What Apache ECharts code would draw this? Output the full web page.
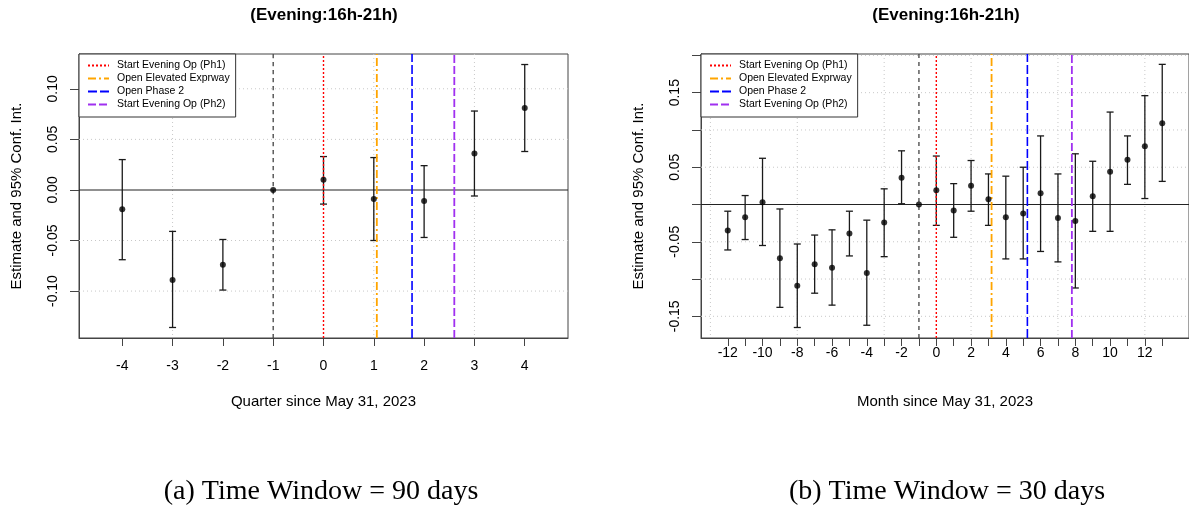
<!DOCTYPE html>
<html>
<head>
<meta charset="utf-8">
<script src="https://cdn.jsdelivr.net/npm/echarts@6/dist/echarts.min.js"></script>
<style>
html,body{margin:0;padding:0;background:#fff;}
#chart{width:1189px;height:515px;}
</style>
</head>
<body>
<div id="chart"></div>
<script>
// ---------- data ----------
const panelTitle = '(Evening:16h-21h)';
const captions = ['(a) Time Window = 90 days', '(b) Time Window = 30 days'];
const xTitles = ['Quarter since May 31, 2023', 'Month since May 31, 2023'];
const yTitle = 'Estimate and 95% Conf. Int.';

// Quarterly (90-day) panel
const qX   = [-4, -3, -2, -1, 0, 1, 2, 3, 4];
const qEst = [-0.019, -0.089, -0.074, 0, 0.010, -0.009, -0.011, 0.036, 0.081];
const qLo  = [-0.069, -0.136, -0.099, 0, -0.014, -0.050, -0.047, -0.006, 0.038];
const qHi  = [0.030, -0.041, -0.049, 0, 0.033, 0.032, 0.024, 0.078, 0.124];
const qEvents = [0, 1.06, 1.76, 2.60];
const qXTicks = [-4, -3, -2, -1, 0, 1, 2, 3, 4];
const qXLabels = [-4, -3, -2, -1, 0, 1, 2, 3, 4];
const qYTicks = [-0.10, -0.05, 0, 0.05, 0.10];
const qYLabels = [-0.10, -0.05, 0, 0.05, 0.10];
const qGridX = [-3, -1, 1, 3];
const qGridY = [-0.10, -0.05, 0.05, 0.10];

// Monthly (30-day) panel
const mX   = [-12, -11, -10, -9, -8, -7, -6, -5, -4, -3, -2, -1, 0, 1, 2, 3, 4, 5, 6, 7, 8, 9, 10, 11, 12, 13];
const mEst = [-0.035, -0.017, 0.003, -0.072, -0.109, -0.080, -0.085, -0.039, -0.092, -0.024, 0.036, 0, 0.019, -0.008, 0.025, 0.007, -0.017, -0.012, 0.015, -0.018, -0.022, 0.011, 0.044, 0.060, 0.078, 0.109];
const mLo  = [-0.061, -0.047, -0.055, -0.138, -0.165, -0.119, -0.135, -0.069, -0.162, -0.070, 0.001, 0, -0.028, -0.044, -0.009, -0.028, -0.073, -0.073, -0.063, -0.077, -0.112, -0.036, -0.036, 0.027, 0.008, 0.031];
const mHi  = [-0.009, 0.012, 0.062, -0.006, -0.053, -0.041, -0.034, -0.009, -0.021, 0.021, 0.072, 0, 0.065, 0.028, 0.059, 0.041, 0.038, 0.050, 0.092, 0.041, 0.068, 0.058, 0.124, 0.092, 0.146, 0.188];
const mEvents = [0, 3.18, 5.24, 7.8];
const mXTicks = [-12, -11, -10, -9, -8, -7, -6, -5, -4, -3, -2, -1, 0, 1, 2, 3, 4, 5, 6, 7, 8, 9, 10, 11, 12, 13];
const mXLabels = [-12, -10, -8, -6, -4, -2, 0, 2, 4, 6, 8, 10, 12];
const mYTicks = [-0.15, -0.10, -0.05, 0, 0.05, 0.10, 0.15, 0.20];
const mYLabels = [-0.15, -0.05, 0.05, 0.15];
const mGridX = [-13, -8, -3, 2, 7, 12];
const mGridY = [-0.15, -0.10, -0.05, 0.05, 0.10, 0.15, 0.20];

const refPeriod = -1;
const eventNames = ['Start Evening Op (Ph1)', 'Open Elevated Exprway', 'Open Phase 2', 'Start Evening Op (Ph2)'];
const eventColors = ['#FF0000', '#FFA500', '#0000FF', '#A030F0'];
const eventDash = [[2, 2], [8, 3, 2, 3], [9, 3], [8, 3]];
const eventWidth = [1.4, 1.8, 1.6, 1.8];

// axis limits (R-style 4% expansion)
const qXRange = [-4.86, 4.86], qYRange = [-0.1464, 0.1344];
const mXRange = [-13.54, 14.54], mYRange = [-0.1791, 0.2019];

// ---------- chart ----------
const FONT = 'Liberation Sans, Arial, Helvetica, sans-serif';
const chart = echarts.init(document.getElementById('chart'), null, {renderer: 'canvas'});

function errRender(params, api) {
  const x = api.value(0), lo = api.value(1), hi = api.value(2);
  if (lo === hi) return null;
  const a = api.coord([x, lo]), b = api.coord([x, hi]);
  const cap = 3.5;
  const st = {stroke: '#1a1a1a', lineWidth: 1.3, fill: null};
  return {type: 'group', children: [
    {type: 'line', shape: {x1: a[0], y1: a[1], x2: b[0], y2: b[1]}, style: st},
    {type: 'line', shape: {x1: a[0] - cap, y1: a[1], x2: a[0] + cap, y2: a[1]}, style: st},
    {type: 'line', shape: {x1: b[0] - cap, y1: b[1], x2: b[0] + cap, y2: b[1]}, style: st}
  ]};
}
function vGridRender(params, api) {
  const cs = params.coordSys;
  const x = api.coord([api.value(0), 0])[0];
  return {type: 'line', shape: {x1: x, y1: cs.y, x2: x, y2: cs.y + cs.height},
    style: {stroke: '#c8c8c8', lineWidth: 1, lineDash: [1, 3]}};
}
function hGridRender(params, api) {
  const cs = params.coordSys;
  const y = api.coord([0, api.value(1)])[1];
  return {type: 'line', shape: {x1: cs.x, y1: y, x2: cs.x + cs.width, y2: y},
    style: {stroke: '#c8c8c8', lineWidth: 1, lineDash: [1, 3]}};
}
function zeroRender(params, api) {
  const cs = params.coordSys;
  const y = api.coord([0, api.value(1)])[1];
  return {type: 'line', shape: {x1: cs.x, y1: y, x2: cs.x + cs.width, y2: y},
    style: {stroke: '#222', lineWidth: 1.1}};
}

function panelSeries(idx, X, est, lo, hi, events, gx, gy, xr, yr) {
  const s = [];
  const ax = {xAxisIndex: idx, yAxisIndex: idx};
  s.push(Object.assign({type: 'custom', silent: true, z: 1, renderItem: vGridRender,
    data: gx.map(v => [v, 0]), encode: {x: 0, y: 1}}, ax));
  s.push(Object.assign({type: 'custom', silent: true, z: 1, renderItem: hGridRender,
    data: gy.map(v => [0, v]), encode: {x: 0, y: 1}}, ax));
  s.push(Object.assign({type: 'custom', silent: true, z: 2, renderItem: zeroRender,
    data: [[0, 0]], encode: {x: 0, y: 1}}, ax));
  s.push(Object.assign({type: 'custom', silent: true, z: 3, renderItem: errRender,
    data: X.map((x, i) => [x, lo[i], hi[i]]), encode: {x: 0, y: [1, 2]}}, ax));
  s.push(Object.assign({type: 'line', name: 'ref', silent: true, z: 4, symbol: 'none',
    data: [[refPeriod, yr[0]], [refPeriod, yr[1]]],
    lineStyle: {color: '#444', width: 1.3, type: [4, 4]}}, ax));
  events.forEach((e, k) => {
    s.push(Object.assign({type: 'line', name: eventNames[k], silent: true, z: 4, symbol: 'none',
      color: eventColors[k],
      itemStyle: {color: eventColors[k], opacity: 0},
      data: [[e, yr[0]], [e, yr[1]]],
      lineStyle: {color: eventColors[k], width: eventWidth[k], type: eventDash[k]}}, ax));
  });
  s.push(Object.assign({type: 'scatter', silent: true, z: 5, symbol: 'circle', symbolSize: 6,
    itemStyle: {color: '#000'}, data: X.map((x, i) => [x, est[i]])}, ax));
  return s;
}

function xAxisCfg(idx, range, ticks, labels, name, margin) {
  return {
    type: 'value', gridIndex: idx, min: range[0], max: range[1],
    splitLine: {show: false},
    axisLine: {show: true, onZero: false, lineStyle: {color: '#444', width: 1}},
    axisTick: {show: true, customValues: ticks, length: 8, lineStyle: {color: '#444'}},
    axisLabel: {show: true, customValues: labels, margin: margin, fontSize: 14, color: '#000', fontFamily: FONT,
      formatter: v => String(Math.round(v))},
    name: name, nameLocation: 'middle', nameGap: 56,
    nameTextStyle: {fontSize: 15, color: '#000', fontFamily: FONT}
  };
}
function yAxisCfg(idx, range, ticks, labels) {
  return {
    type: 'value', gridIndex: idx, min: range[0], max: range[1],
    splitLine: {show: false},
    axisLine: {show: true, onZero: false, lineStyle: {color: '#444', width: 1}},
    axisTick: {show: true, customValues: ticks, length: 9, lineStyle: {color: '#444'}},
    axisLabel: {show: true, customValues: labels, rotate: 90, margin: 19, fontSize: 14, color: '#000', fontFamily: FONT,
      formatter: v => (Math.round(v * 100) / 100).toFixed(2)},
    name: yTitle, nameLocation: 'middle', nameGap: 55, nameRotate: 90,
    nameTextStyle: {fontSize: 15, color: '#000', fontFamily: FONT}
  };
}
function legendCfg(left) {
  return {
    left: left, top: 54, orient: 'vertical', data: eventNames, selectedMode: false,
    backgroundColor: '#fff', borderColor: '#333', borderWidth: 1, borderRadius: 0,
    padding: [6, 6, 7, 8], itemWidth: 21, itemHeight: 11, itemGap: 2,
    itemStyle: {color: 'transparent', borderColor: 'transparent', borderWidth: 0, opacity: 0},
    textStyle: {fontSize: 10.5, color: '#000', fontFamily: FONT, padding: [0, 0, 0, 3]},
    z: 20
  };
}

const option = {
  animation: false,
  backgroundColor: '#fff',
  grid: [
    {left: 79, top: 54, width: 489, height: 284, show: true, borderColor: '#444', borderWidth: 1, backgroundColor: 'transparent'},
    {left: 701, top: 54, width: 490, height: 284, show: true, borderColor: '#444', borderWidth: 1, backgroundColor: 'transparent'}
  ],
  xAxis: [
    xAxisCfg(0, qXRange, qXTicks, qXLabels, xTitles[0], 21),
    xAxisCfg(1, mXRange, mXTicks, mXLabels, xTitles[1], 8)
  ],
  yAxis: [
    yAxisCfg(0, qYRange, qYTicks, qYLabels),
    yAxisCfg(1, mYRange, mYTicks, mYLabels)
  ],
  legend: [legendCfg(79), legendCfg(701)],
  graphic: [
    {type: 'text', x: 324, y: 15, style: {text: panelTitle, align: 'center', verticalAlign: 'middle',
      font: 'bold 17px ' + FONT, fill: '#000'}},
    {type: 'text', x: 946, y: 15, style: {text: panelTitle, align: 'center', verticalAlign: 'middle',
      font: 'bold 17px ' + FONT, fill: '#000'}},
    {type: 'text', x: 321, y: 492, style: {text: captions[0], align: 'center', verticalAlign: 'middle',
      font: '28px Liberation Serif, Times New Roman, serif', fill: '#000'}},
    {type: 'text', x: 947, y: 492, style: {text: captions[1], align: 'center', verticalAlign: 'middle',
      font: '28px Liberation Serif, Times New Roman, serif', fill: '#000'}}
  ],
  series: [].concat(
    panelSeries(0, qX, qEst, qLo, qHi, qEvents, qGridX, qGridY, qXRange, qYRange),
    panelSeries(1, mX, mEst, mLo, mHi, mEvents, mGridX, mGridY, mXRange, mYRange)
  )
};
chart.setOption(option);
</script>
</body>
</html>
